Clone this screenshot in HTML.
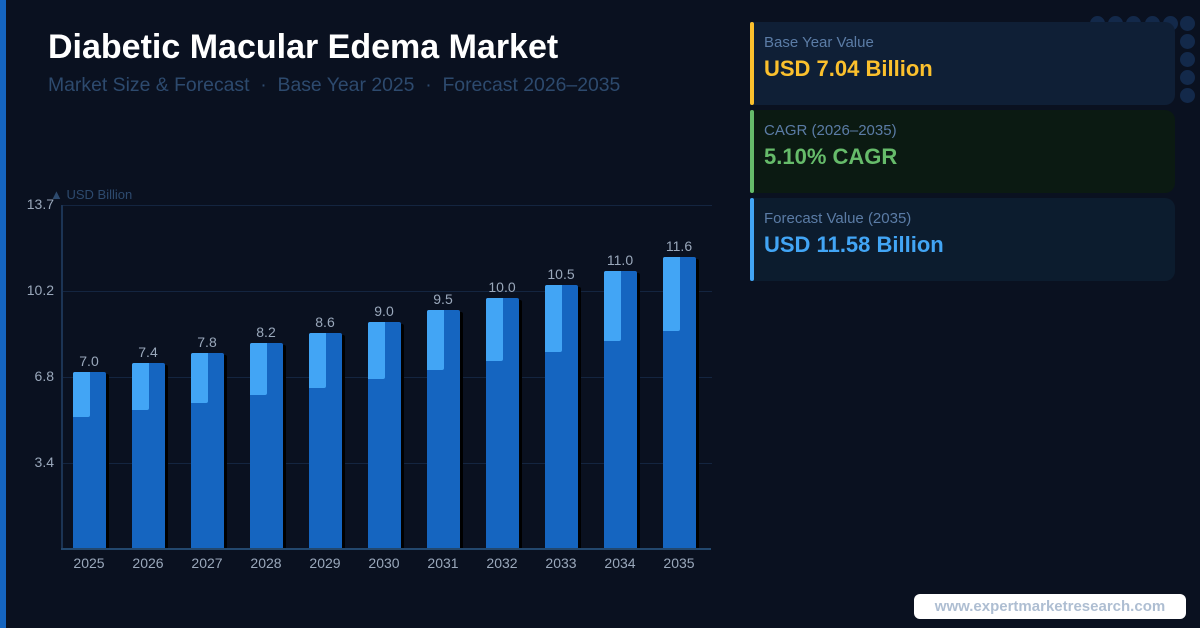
<!DOCTYPE html>
<html><head><meta charset="utf-8"><style>
*{margin:0;padding:0;box-sizing:border-box}
body{width:1200px;height:628px;background:#0a1120;position:relative;overflow:hidden;font-family:"Liberation Sans",sans-serif}
.a{position:absolute}
.dot{position:absolute;width:15px;height:15px;border-radius:50%;background:#13294a}
.card{position:absolute;left:750px;width:425px;height:83px;border-radius:0 10px 10px 0}
.card .bar{position:absolute;left:0;top:0;width:4px;height:100%;border-radius:2px}
.card .l{position:absolute;left:14px;top:12px;font-size:15px;color:#5b7ca6}
.card .v{position:absolute;left:14px;top:34px;font-size:22px;font-weight:bold}
.g{position:absolute;left:62px;width:650px;height:1px;background:#142540}
.yl{position:absolute;width:52px;text-align:right;left:2px;font-size:14px;color:#9aa8bb}
.b{position:absolute;width:33px;background:#1565c0;border-radius:2px 2px 0 0;box-shadow:3px 2px 0 #000}
.b i{position:absolute;left:0;top:0;width:17px;background:#42a5f5;border-radius:2px 0 2px 0}
.vl{position:absolute;width:60px;text-align:center;font-size:14px;color:#9aa8bb}
.xl{position:absolute;width:60px;text-align:center;font-size:14px;color:#9aa8bb;top:555px}
</style></head><body>
<div class="a" style="left:0;top:0;width:6px;height:628px;background:#1565c0"></div>
<div class="a" style="left:48px;top:28px;font-size:34px;font-weight:bold;color:#fff">Diabetic Macular Edema Market</div>
<div class="a" style="left:48px;top:74px;font-size:19.4px;color:#2d4a6e">Market Size &amp; Forecast &nbsp;·&nbsp; Base Year 2025 &nbsp;·&nbsp; Forecast 2026–2035</div>

<div class="dot" style="left:1090px;top:16px"></div><div class="dot" style="left:1108px;top:16px"></div><div class="dot" style="left:1126px;top:16px"></div><div class="dot" style="left:1145px;top:16px"></div><div class="dot" style="left:1163px;top:16px"></div>
<div class="dot" style="left:1180px;top:16px"></div><div class="dot" style="left:1180px;top:34px"></div><div class="dot" style="left:1180px;top:52px"></div><div class="dot" style="left:1180px;top:70px"></div><div class="dot" style="left:1180px;top:88px"></div>

<div class="card" style="top:22px;background:#0f1f36"><div class="bar" style="background:#fbc02d"></div><div class="l">Base Year Value</div><div class="v" style="color:#fbc02d">USD 7.04 Billion</div></div>
<div class="card" style="top:110px;background:#0b1a12"><div class="bar" style="background:#66bb6a"></div><div class="l">CAGR (2026–2035)</div><div class="v" style="color:#66bb6a">5.10% CAGR</div></div>
<div class="card" style="top:198px;background:#0c1c2e"><div class="bar" style="background:#42a5f5"></div><div class="l">Forecast Value (2035)</div><div class="v" style="color:#42a5f5">USD 11.58 Billion</div></div>

<div class="a" style="left:50px;top:187px;font-size:13px;color:#2d4a6e">▲ USD Billion</div>
<div class="g" style="top:205px"></div><div class="g" style="top:291px"></div><div class="g" style="top:377px"></div><div class="g" style="top:463px"></div>
<div class="a" style="left:61px;top:205px;width:2px;height:344px;background:#1c3454"></div>
<div class="yl" style="top:196px">13.7</div><div class="yl" style="top:282px">10.2</div><div class="yl" style="top:368px">6.8</div><div class="yl" style="top:454px">3.4</div>

<div class="b" style="left:73px;top:372px;height:176px"><i style="height:45px"></i></div><div class="vl" style="left:59px;top:353px">7.0</div><div class="xl" style="left:59px">2025</div>
<div class="b" style="left:132px;top:363px;height:185px"><i style="height:47px"></i></div><div class="vl" style="left:118px;top:344px">7.4</div><div class="xl" style="left:118px">2026</div>
<div class="b" style="left:191px;top:353px;height:195px"><i style="height:50px"></i></div><div class="vl" style="left:177px;top:334px">7.8</div><div class="xl" style="left:177px">2027</div>
<div class="b" style="left:250px;top:343px;height:205px"><i style="height:52px"></i></div><div class="vl" style="left:236px;top:324px">8.2</div><div class="xl" style="left:236px">2028</div>
<div class="b" style="left:309px;top:333px;height:215px"><i style="height:55px"></i></div><div class="vl" style="left:295px;top:314px">8.6</div><div class="xl" style="left:295px">2029</div>
<div class="b" style="left:368px;top:322px;height:226px"><i style="height:57px"></i></div><div class="vl" style="left:354px;top:303px">9.0</div><div class="xl" style="left:354px">2030</div>
<div class="b" style="left:427px;top:310px;height:238px"><i style="height:60px"></i></div><div class="vl" style="left:413px;top:291px">9.5</div><div class="xl" style="left:413px">2031</div>
<div class="b" style="left:486px;top:298px;height:250px"><i style="height:63px"></i></div><div class="vl" style="left:472px;top:279px">10.0</div><div class="xl" style="left:472px">2032</div>
<div class="b" style="left:545px;top:285px;height:263px"><i style="height:67px"></i></div><div class="vl" style="left:531px;top:266px">10.5</div><div class="xl" style="left:531px">2033</div>
<div class="b" style="left:604px;top:271px;height:277px"><i style="height:70px"></i></div><div class="vl" style="left:590px;top:252px">11.0</div><div class="xl" style="left:590px">2034</div>
<div class="b" style="left:663px;top:257px;height:291px"><i style="height:74px"></i></div><div class="vl" style="left:649px;top:238px">11.6</div><div class="xl" style="left:649px">2035</div>
<div class="a" style="left:61px;top:548px;width:650px;height:2px;background:#23486e"></div>

<div class="a" style="left:914px;top:594px;width:272px;height:25px;background:#fff;border-radius:6px;text-align:center;font-size:15px;line-height:25px;font-weight:bold;color:#aebed2">www.expertmarketresearch.com</div>
</body></html>
